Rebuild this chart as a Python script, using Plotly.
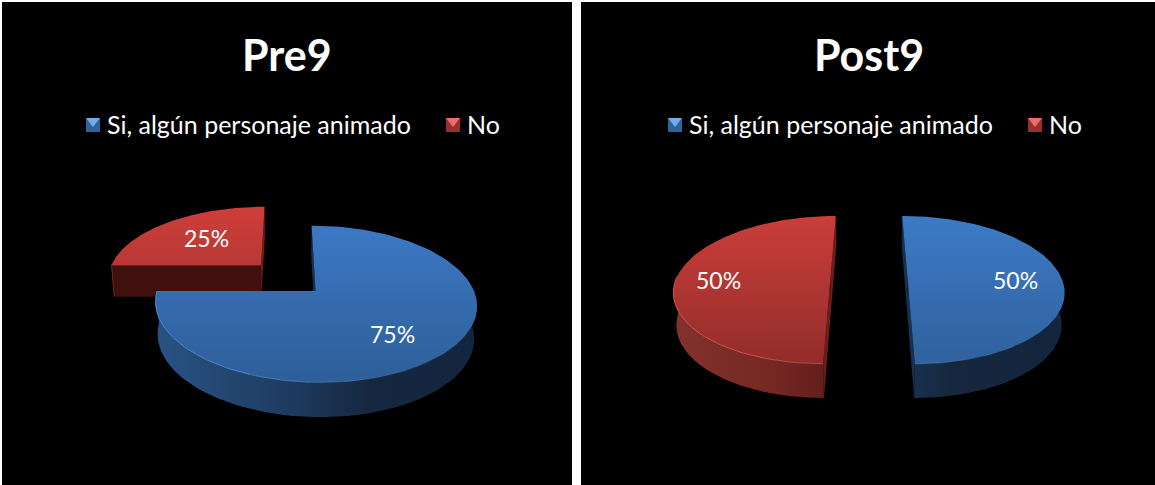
import numpy as np
import plotly.graph_objects as go

# --- data ---
categories = ["Si, algún personaje animado", "No"]
pre9_values = [75, 25]
post9_values = [50, 50]
chart_titles = ["Pre9", "Post9"]

# --- styling / layout ---
W, H = 1155, 485
PANELS = [(2, 572), (581, 1155)]
CENTERS = [(287.5, 278), (869, 278)]
A, B, K = 154, 72, 0.16          # perspective camera of the pie
DEPTH, DK, BOTTOM_SCALE = 31.5, 0.08, 0.985
EXPLODE = 0.25
BLUE = dict(top=["#3d7cca", "#2e5f99"], rim="#4f8ad0",
            wall=[[0, "#2d5b91"], [0.5, "#1e3c60"], [0.72, "#15283f"], [1, "#14263e"]],
            inner="#152a45", strip="#163150", mark="#2f6299", mark2="#6fabee")
RED = dict(top=["#cf3e3a", "#8c2c29"], rim="#d8534e",
           wall=[[0, "#82302b"], [0.25, "#732723"], [0.47, "#581816"], [1, "#521614"]],
           inner="#3f100d", strip="#6e1d1b", mark="#97302c", mark2="#ea6f6a")
STYLES = [BLUE, RED]
LABEL_OFFSETS = [[(0.432, 0.515), (-0.397, -0.433)], [(0.698, 0.028), (-0.724, 0.028)]]
LEGEND_X = [[86, 446], [668, 1028]]


def project(u, v, c, bottom=False):
    x = A * u / (1 - K * v)
    y = B * v / (1 - K * v)
    if bottom:
        x = x * BOTTOM_SCALE
        y = y + DEPTH / (1 - DK * v)
    return c[0] + x, c[1] + y


def add_poly(fig, x, y, **kw):
    fig.add_trace(go.Scatter(x=x, y=y, mode="lines", fill="toself", hoverinfo="skip",
                             showlegend=False, line=dict(width=0), **kw))


def draw_pie(fig, values, c):
    total = sum(values)
    frac = np.cumsum([0] + list(values)) / total * 2 * np.pi
    # paint back slice first, front slice afterwards
    order = sorted(range(len(values)), key=lambda i: np.cos((frac[i] + frac[i + 1]) / 2), reverse=True)
    for i in order:
        st = STYLES[i]
        t0, t1 = frac[i], frac[i + 1]
        mid = (t0 + t1) / 2
        ex, ey = EXPLODE * np.sin(mid), -EXPLODE * np.cos(mid)
        th = np.linspace(t0, t1, 160)
        u = ex + np.sin(th)
        v = ey - np.cos(th)
        # straight cut faces
        for t in (t0, t1):
            pts_u = [ex, ex + np.sin(t)]
            pts_v = [ey, ey - np.cos(t)]
            xt, yt = project(np.array(pts_u), np.array(pts_v), c)
            xb, yb = project(np.array(pts_u), np.array(pts_v), c, bottom=True)
            col = st["strip"] if abs(np.sin(t)) < 0.5 else st["inner"]
            add_poly(fig, list(xt) + list(xb[::-1]), list(yt) + list(yb[::-1]), fillcolor=col)
        # outer wall
        mask = np.cos(th) < 0.02
        xt, yt = project(u[mask], v[mask], c)
        xb, yb = project(u[mask], v[mask], c, bottom=True)
        fig.add_trace(go.Scatter(
            x=list(xt) + list(xb[::-1]), y=list(yt) + list(yb[::-1]), mode="lines", fill="toself",
            line=dict(width=0), hoverinfo="skip", showlegend=False,
            fillgradient=dict(type="horizontal", colorscale=st["wall"],
                              start=c[0] - A * 1.18, stop=c[0] + A * 1.18)))
        # top face
        xa, ya = project(np.array([ex]), np.array([ey]), c)
        xr, yr = project(u, v, c)
        fig.add_trace(go.Scatter(
            x=list(xa) + list(xr), y=list(ya) + list(yr), mode="lines", fill="toself",
            line=dict(width=0), hoverinfo="skip", showlegend=False,
            fillgradient=dict(type="vertical",
                              colorscale=[[0, st["top"][1]], [1, st["top"][0]]],
                              start=c[1] + 100, stop=c[1] - 72)))
        # lit front rim, fading towards the right
        idx = np.where(mask)[0]
        for seg in np.array_split(idx, 10):
            if seg.size < 2:
                continue
            stop = min(seg[-1] + 2, th.size)
            alpha = float(np.clip(0.75 - 0.75 * np.sin(th[seg[0]]), 0, 1))
            if alpha <= 0.02:
                continue
            xf, yf = project(u[seg[0]:stop], v[seg[0]:stop], c)
            fig.add_trace(go.Scatter(x=xf, y=yf, mode="lines", hoverinfo="skip", showlegend=False,
                                     opacity=alpha, line=dict(color=st["rim"], width=1)))


fig = go.Figure()
for p in PANELS:
    fig.add_shape(type="rect", x0=p[0], x1=p[1], y0=2, y1=H, fillcolor="black",
                  line_width=0, layer="below")

for values, c in zip([pre9_values, post9_values], CENTERS):
    draw_pie(fig, values, c)

for k, (values, c, title) in enumerate(zip([pre9_values, post9_values], CENTERS, chart_titles)):
    mid_x = c[0] - 0.5
    fig.add_annotation(x=mid_x, y=54, text=f"<b>{title}</b>", showarrow=False,
                       font=dict(family="Lato", size=43, color="white"))
    # legend
    for i, cat in enumerate(categories):
        st = STYLES[i]
        lx = LEGEND_X[k][i]
        fig.add_trace(go.Scatter(x=[lx + 7], y=[125], mode="markers", hoverinfo="skip", showlegend=False,
                                 marker=dict(symbol="square", size=14, color=st["mark"], line=dict(width=0))))
        fig.add_trace(go.Scatter(x=[lx + 7], y=[121], mode="markers", hoverinfo="skip", showlegend=False,
                                 marker=dict(symbol="triangle-down", size=12, color=st["mark2"], line=dict(width=0))))
        fig.add_annotation(x=lx + 19, y=124, text=cat, xanchor="left", showarrow=False,
                           font=dict(family="Lato", size=25, color="white"))
    # data labels
    total = sum(values)
    frac = np.cumsum([0] + list(values)) / total * 2 * np.pi
    for i, val in enumerate(values):
        lu, lv = LABEL_OFFSETS[k][i]
        mid = (frac[i] + frac[i + 1]) / 2
        ex, ey = EXPLODE * np.sin(mid), -EXPLODE * np.cos(mid)
        px, py = project(ex + lu, ey + lv, c)
        fig.add_annotation(x=px, y=py, text=f"{round(val / total * 100)}%", showarrow=False,
                           font=dict(family="Lato", size=23, color="white"))

fig.update_layout(
    width=W, height=H, margin=dict(l=0, r=0, t=0, b=0), paper_bgcolor="white", plot_bgcolor="white",
    xaxis=dict(range=[0, W], visible=False, fixedrange=True),
    yaxis=dict(range=[H, 0], visible=False, fixedrange=True),
    showlegend=False,
)
fig.write_html("out.html", config={"displayModeBar": False},
               post_script="document.body.style.margin='0';document.body.style.overflow='hidden';")
